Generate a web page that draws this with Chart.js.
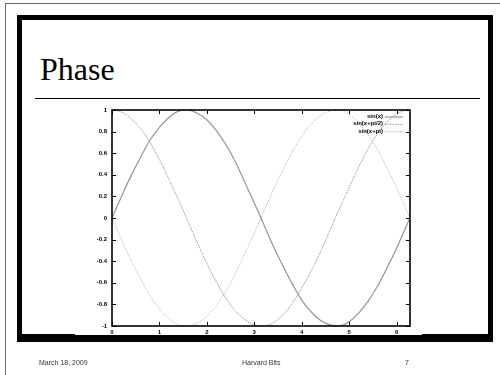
<!DOCTYPE html>
<html>
<head>
<meta charset="utf-8">
<script src="https://cdn.jsdelivr.net/npm/chart.js@4/dist/chart.umd.min.js"></script>
<style>
  html, body { margin: 0; padding: 0; background: #fff; }
  #page { position: relative; width: 500px; height: 375px; overflow: hidden; background: #fff; }
  .abs { position: absolute; }
  #outer { left: 5px; top: 3px; width: 520px; height: 400px; border: 1px solid #666; }
  #frame { left: 17px; top: 15px; width: 476px; height: 327px; box-sizing: border-box;
           border: 5px solid #000; border-bottom-width: 8px; }
  #title { left: 40px; top: 53px; font: 32px "Liberation Serif", "Times New Roman", serif;
           line-height: 32px; color: #000; }
  #rule { left: 35px; top: 98px; width: 445px; height: 1px; background: #000; }
  #chart { position: absolute; left: 0; top: 0; }
</style>
</head>
<body>
<div id="page">
  <div id="outer" class="abs"></div>
  <div id="frame" class="abs"></div>
  <div id="title" class="abs">Phase</div>
  <div id="rule" class="abs"></div>
  <canvas id="chart" width="500" height="375"></canvas>
</div>
<script>
// x positions (radians) of the sampled points
const xValues = [0, 0.2, 0.4, 0.6, 0.8, 1.0, 1.2, 1.4, 1.6, 1.8, 2.0, 2.2, 2.4, 2.6, 2.8, 3.0,
                 3.2, 3.4, 3.6, 3.8, 4.0, 4.2, 4.4, 4.6, 4.8, 5.0, 5.2, 5.4, 5.6, 5.8, 6.0, 6.2, 6.28];
const sinX = [0, 0.2, 0.39, 0.56, 0.72, 0.84, 0.93, 0.99, 1.0, 0.97, 0.91, 0.81, 0.68, 0.52, 0.33, 0.14,
              -0.06, -0.26, -0.44, -0.61, -0.76, -0.87, -0.95, -0.99, -1.0, -0.96, -0.88, -0.77, -0.63, -0.46, -0.28, -0.08, 0];
const sinXHalfPi = [1.0, 0.98, 0.92, 0.83, 0.7, 0.54, 0.36, 0.17, -0.03, -0.23, -0.42, -0.59, -0.74, -0.86, -0.94, -0.99,
                    -1.0, -0.97, -0.9, -0.79, -0.65, -0.49, -0.31, -0.11, 0.09, 0.28, 0.47, 0.64, 0.78, 0.89, 0.96, 1.0, 1.0];
const sinXPi = [0, -0.2, -0.39, -0.56, -0.72, -0.84, -0.93, -0.99, -1.0, -0.97, -0.91, -0.81, -0.68, -0.52, -0.33, -0.14,
                0.06, 0.26, 0.44, 0.61, 0.76, 0.87, 0.95, 0.99, 1.0, 0.96, 0.88, 0.77, 0.63, 0.46, 0.28, 0.08, 0];
const seriesLabels = ['sin(x)', 'sin(x+pi/2)', 'sin(x+pi)'];
const xTicks = [0, 1, 2, 3, 4, 5, 6];
const yTicks = [-1, -0.8, -0.6, -0.4, -0.2, 0, 0.2, 0.4, 0.6, 0.8, 1];
const footer = [['March 18, 2009', 39], ['Harvard Bits', 242], ['7', 405]];

const pts = ys => xValues.map((x, i) => ({ x: x, y: ys[i] }));
const tickFont = { family: 'Liberation Sans, Arial, sans-serif', size: 6, weight: 'bold' };

// white plot panel, boxed border with inward ticks on every side, key and slide footer
const plotDecor = {
  id: 'plotDecor',
  beforeDraw(chart) {
    const c = chart.ctx;
    c.save();
    c.fillStyle = '#fff';
    c.fillRect(75, 101, 347, 234);
    c.restore();
  },
  afterDraw(chart) {
    const c = chart.ctx, a = chart.chartArea;
    const xs = chart.scales.x, ys = chart.scales.y;
    c.save();
    c.strokeStyle = '#000';
    c.lineWidth = 1.6;
    c.strokeRect(a.left, a.top, a.right - a.left, a.bottom - a.top);
    c.lineWidth = 1;
    c.beginPath();
    yTicks.forEach(v => {
      const p = Math.round(ys.getPixelForValue(v)) + 0.5;
      c.moveTo(a.left, p); c.lineTo(a.left + 4, p);
      c.moveTo(a.right, p); c.lineTo(a.right - 4, p);
    });
    xTicks.forEach(v => {
      const p = Math.round(xs.getPixelForValue(v)) + 0.5;
      c.moveTo(p, a.bottom); c.lineTo(p, a.bottom - 4);
      c.moveTo(p, a.top); c.lineTo(p, a.top + 4);
    });
    c.stroke();
    // key, top right
    c.font = 'bold 6px "Liberation Sans", Arial, sans-serif';
    c.textAlign = 'right';
    c.textBaseline = 'middle';
    chart.data.datasets.forEach((ds, i) => {
      const y = a.top + 6.5 + i * 7.3;
      c.fillStyle = '#000';
      c.fillText(ds.label, a.right - 27, y);
      c.strokeStyle = ds.borderColor;
      c.lineWidth = ds.borderWidth;
      c.setLineDash(ds.borderDash || []);
      c.beginPath();
      c.moveTo(a.right - 25, y + 0.5);
      c.lineTo(a.right - 7, y + 0.5);
      c.stroke();
    });
    c.setLineDash([]);
    // slide footer
    c.font = '7px "Liberation Sans", Arial, sans-serif';
    c.fillStyle = '#333';
    c.textAlign = 'left';
    c.textBaseline = 'alphabetic';
    footer.forEach(([t, x]) => c.fillText(t, x, 365));
    c.restore();
  }
};

new Chart(document.getElementById('chart'), {
  type: 'line',
  data: {
    datasets: [
      { label: seriesLabels[0], data: pts(sinX), borderColor: '#959595', borderWidth: 1.2,
        pointRadius: 0, tension: 0.4, fill: false },
      { label: seriesLabels[1], data: pts(sinXHalfPi), borderColor: '#9a9a9a', borderWidth: 1,
        borderDash: [1.5, 1], pointRadius: 0, tension: 0.4, fill: false },
      { label: seriesLabels[2], data: pts(sinXPi), borderColor: '#c4c4c4', borderWidth: 1,
        borderDash: [1.5, 1], pointRadius: 0, tension: 0.4, fill: false }
    ]
  },
  options: {
    responsive: false,
    animation: false,
    events: [],
    layout: { padding: { left: 75, top: 110, right: 90, bottom: 40 } },
    plugins: { legend: { display: false }, tooltip: { enabled: false }, title: { display: false } },
    scales: {
      x: {
        type: 'linear', min: 0, max: 6.283,
        afterFit: s => { s.height = 9; },
        afterBuildTicks: s => { s.ticks = xTicks.map(v => ({ value: v })); },
        grid: { display: false, drawTicks: false },
        border: { display: false },
        ticks: { font: tickFont, color: '#000', padding: 3, maxRotation: 0,
                 callback: v => String(v) }
      },
      y: {
        type: 'linear', min: -1, max: 1,
        afterFit: s => { s.width = 37; },
        afterBuildTicks: s => { s.ticks = yTicks.map(v => ({ value: v })); },
        grid: { display: false, drawTicks: false },
        border: { display: false },
        ticks: { font: tickFont, color: '#000', padding: 5,
                 callback: v => String(Math.round(v * 10) / 10) }
      }
    }
  },
  plugins: [plotDecor]
});
</script>
</body>
</html>
